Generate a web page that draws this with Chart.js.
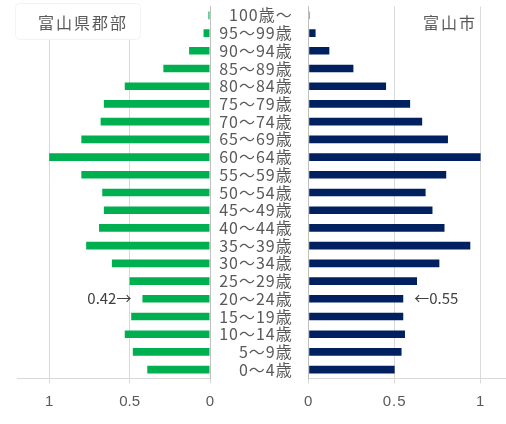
<!DOCTYPE html>
<html lang="ja">
<head>
<meta charset="utf-8">
<script src="https://cdn.jsdelivr.net/npm/chart.js@4/dist/chart.umd.min.js"></script>
<style>
  html, body { margin: 0; padding: 0; background: #fff; overflow: hidden; }
  #wrap { position: relative; width: 506px; height: 424px; overflow: hidden; }
  canvas { position: absolute; top: 0; }
  #left { left: 0; }
  #right { left: 210px; }
</style>
</head>
<body>
<div id="wrap">
  <canvas id="left" width="222" height="424"></canvas>
  <canvas id="right" width="310" height="424"></canvas>
</div>
<script>
// Age groups, oldest at the top
const ageGroups = [
  '100歳～', '95～99歳', '90～94歳', '85～89歳', '80～84歳', '75～79歳', '70～74歳',
  '65～69歳', '60～64歳', '55～59歳', '50～54歳', '45～49歳', '40～44歳', '35～39歳',
  '30～34歳', '25～29歳', '20～24歳', '15～19歳', '10～14歳', '5～9歳', '0～4歳'
];
// 富山県郡部 (relative population, peak group = 1)
const gunbuValues = [
  0.01, 0.04, 0.13, 0.29, 0.53, 0.66, 0.68,
  0.80, 1.00, 0.80, 0.67, 0.66, 0.69, 0.77,
  0.61, 0.50, 0.42, 0.49, 0.53, 0.48, 0.39
];
// 富山市 (relative population, peak group = 1)
const shiValues = [
  0.005, 0.04, 0.12, 0.26, 0.45, 0.59, 0.66,
  0.81, 1.00, 0.80, 0.68, 0.72, 0.79, 0.94,
  0.76, 0.63, 0.55, 0.55, 0.56, 0.54, 0.50
];
const xTicks = [0, 0.5, 1];
const seriesNames = ['富山県郡部', '富山市'];
const calloutGroup = '20～24歳';

const GRID = '#d9d9d9';
const AXIS = '#bfbfbf';
const TEXT = '#595959';
const CJK = '"Noto Sans CJK JP", "Noto Sans", sans-serif';
const NUM = '"Liberation Sans", "DejaVu Sans", sans-serif';

const keepTicks = axis => {
  axis.ticks = xTicks.map(v => ({ value: v }));
};

function xScale(reverse) {
  return {
    type: 'linear',
    min: 0,
    max: 1.2,
    reverse: reverse,
    afterBuildTicks: keepTicks,
    afterFit: s => { s.height = 45.5; },
    grid: { color: GRID, tickLength: 5, tickColor: GRID, lineWidth: 1 },
    border: { display: true, color: GRID },
    ticks: {
      color: TEXT,
      font: { family: NUM, size: 15 },
      padding: 9,
      callback: v => String(v)
    }
  };
}

// Category labels get a little tracking; reset before the bars are drawn
const labelSpacing = {
  id: 'labelSpacing',
  beforeDraw(chart) { chart.ctx.letterSpacing = '1px'; },
  beforeDatasetsDraw(chart) { chart.ctx.letterSpacing = '0px'; }
};

// Callout text pointing at a bar end, plus the series title
function annotations(side) {
  return {
    id: 'annot-' + side,
    afterDraw(chart) {
      const ctx = chart.ctx;
      const xs = chart.scales.x, ys = chart.scales.y;
      const idx = ageGroups.indexOf(calloutGroup);
      const y = ys.getPixelForValue(idx);
      ctx.save();
      ctx.letterSpacing = '0px';
      ctx.fillStyle = '#404040';
      ctx.font = '15px ' + CJK;
      ctx.textBaseline = 'middle';
      if (side === 'left') {
        const v = gunbuValues[idx];
        ctx.textAlign = 'right';
        ctx.fillText(v.toFixed(2) + '→', xs.getPixelForValue(v) - 11, y);
        // title box
        ctx.fillStyle = '#fff';
        ctx.strokeStyle = '#f3f3f3';
        ctx.beginPath();
        ctx.roundRect(15.5, 3.5, 125, 36, 4);
        ctx.fill();
        ctx.stroke();
        ctx.fillStyle = TEXT;
        ctx.font = '16px ' + CJK;
        ctx.letterSpacing = '2px';
        ctx.textAlign = 'center';
        ctx.fillText(seriesNames[0], 83, 23);
      } else {
        const v = shiValues[idx];
        ctx.textAlign = 'left';
        ctx.fillText('←' + v.toFixed(2), xs.getPixelForValue(v) + 11, y);
        ctx.fillStyle = TEXT;
        ctx.font = '16px ' + CJK;
        ctx.letterSpacing = '2px';
        ctx.textAlign = 'center';
        ctx.fillText(seriesNames[1], 240, 23);
      }
      ctx.restore();
    }
  };
}

const barOpts = { barPercentage: 0.43, categoryPercentage: 1, borderWidth: 0 };

new Chart(document.getElementById('left'), {
  type: 'bar',
  data: {
    labels: ageGroups,
    datasets: [{ label: seriesNames[0], data: gunbuValues, backgroundColor: '#00b050', ...barOpts }]
  },
  options: {
    indexAxis: 'y',
    responsive: false,
    animation: false,
    devicePixelRatio: 1,
    layout: { padding: { left: 17, right: 12, top: 6.5, bottom: 0 } },
    plugins: { legend: { display: false }, tooltip: { enabled: false } },
    scales: {
      x: xScale(true),
      y: {
        position: 'right',
        afterFit: s => { s.width = 0; s.paddingTop = 0; s.paddingBottom = 0; },
        grid: { display: true, color: 'rgba(0,0,0,0)', drawTicks: false },
        border: { display: true, color: AXIS },
        ticks: { display: false }
      }
    }
  },
  plugins: [annotations('left')]
});

new Chart(document.getElementById('right'), {
  type: 'bar',
  data: {
    labels: ageGroups,
    datasets: [{ label: seriesNames[1], data: shiValues, backgroundColor: '#002060', ...barOpts }]
  },
  options: {
    indexAxis: 'y',
    responsive: false,
    animation: false,
    devicePixelRatio: 1,
    layout: { padding: { left: 0, right: 5, top: 6.5, bottom: 0 } },
    plugins: { legend: { display: false }, tooltip: { enabled: false } },
    scales: {
      x: xScale(false),
      y: {
        position: 'left',
        afterFit: s => { s.width = 98.7; s.paddingTop = 0; s.paddingBottom = 0; },
        grid: { display: true, color: 'rgba(0,0,0,0)', drawTicks: false },
        border: { display: true, color: AXIS },
        ticks: {
          color: TEXT,
          padding: 16,
          autoSkip: false,
          font: { family: CJK, size: 16 }
        }
      }
    }
  },
  plugins: [labelSpacing, annotations('right')]
});
</script>
</body>
</html>
